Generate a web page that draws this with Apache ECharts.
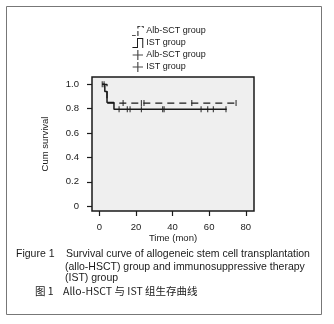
<!DOCTYPE html>
<html><head><meta charset="utf-8">
<script src="https://cdn.jsdelivr.net/npm/echarts@6/dist/echarts.min.js"></script>
<style>html,body{margin:0;padding:0;background:#fff}#c{width:334px;height:324px}</style>
</head><body><div id="c"></div>
<script>
// Kaplan-Meier step points (time in months, cumulative survival)
const albTimes = [1.5, 4.2, 75];
const albSurv  = [1, 0.846, 0.846];
const istTimes = [1.5, 3, 4.2, 8, 69.6];
const istSurv  = [1, 0.94, 0.85, 0.795, 0.795];
// Censored observations
const albCensorTimes = [1.6, 13, 23, 24.4, 50.5, 74.7];
const albCensorSurv  = [1, 0.846, 0.846, 0.846, 0.846, 0.846];
const istCensorTimes = [2.6, 10.8, 15.3, 16.8, 23, 34.6, 35.4, 55.6, 59.2, 62.3, 69.2];
const istCensorSurv  = [1, 0.795, 0.795, 0.795, 0.795, 0.795, 0.795, 0.795, 0.795, 0.795, 0.795];
const xTicks = [0, 20, 40, 60, 80];
const yTicks = [0, 0.2, 0.4, 0.6, 0.8, 1.0];
const legendNames = ['Alb-SCT group', 'IST group', 'Alb-SCT group ', 'IST group '];
const captionLines = [
  'Survival curve of allogeneic stem cell transplantation',
  '(allo-HSCT) group and immunosuppressive therapy',
  '(IST) group'
];
const captionLabel = 'Figure 1';
const cnLabel = '图 1';
const cnCaption = 'Allo-HSCT 与 IST 组生存曲线';

const zip = (a, b) => a.map((v, i) => [v, b[i]]);
const FONT = '"Liberation Sans", Arial, sans-serif';
const TXT = '#1a1a1a';

const chart = echarts.init(document.getElementById('c'), null, {renderer: 'canvas'});
const plusIcon = 'path://M5.5,0h1.4v12h-1.4z M0,5.3h12.4v1.4h-12.4z';
chart.setOption({
  animation: false,
  backgroundColor: '#fff',
  grid: {left: 92, top: 77, right: 80, bottom: 113, show: true,
         backgroundColor: '#efefef', borderColor: '#1a1a1a', borderWidth: 1.5},
  legend: {
    orient: 'vertical', left: 127, top: 21, itemWidth: 13, itemHeight: 10, itemGap: 2,
    textStyle: {fontSize: 9, color: TXT, fontFamily: FONT, padding: [0, 0, 0, -3]},
    formatter: n => n.trim(),
    data: [
      {name: legendNames[0], icon: 'path://M0,11h4.5v1h-4.5z M6.5,6h1.2v6h-1.2z M6.5,0h1.2v3h-1.2z M7.5,0h2.5v1h-2.5z M11.5,0h2.5v1h-2.5z M13,0h1v2.5h-1z'},
      {name: legendNames[1], icon: 'path://M0,11h6v1.2h-6z M5.6,0h1.2v12.2h-1.2z M5.6,0h7.4v1.2h-7.4z M12,0h1.2v12.2h-1.2z'},
      {name: legendNames[2], icon: plusIcon},
      {name: legendNames[3], icon: plusIcon}
    ]
  },
  xAxis: {
    type: 'value', min: -4, max: 84.5,
    name: 'Time (mon)', nameLocation: 'middle', nameGap: 21,
    nameTextStyle: {fontSize: 9.5, color: TXT, fontFamily: FONT},
    axisLine: {show: false, onZero: false}, splitLine: {show: false},
    axisTick: {show: true, length: 5, customValues: xTicks, lineStyle: {color: '#1a1a1a', width: 1.2}},
    axisLabel: {customValues: xTicks, fontSize: 9.5, color: TXT, fontFamily: FONT, margin: 11}
  },
  yAxis: {
    type: 'value', min: -0.04, max: 1.06,
    name: 'Cum survival', nameLocation: 'middle', nameGap: 42, nameRotate: 90,
    nameTextStyle: {fontSize: 9.5, color: TXT, fontFamily: FONT},
    axisLine: {show: false, onZero: false}, splitLine: {show: false},
    axisTick: {show: true, length: 5, customValues: yTicks, lineStyle: {color: '#1a1a1a', width: 1.2}},
    axisLabel: {customValues: yTicks, fontSize: 9.5, color: TXT, fontFamily: FONT, margin: 13,
                formatter: v => v === 0 ? '0' : v.toFixed(1)}
  },
  series: [
    {name: legendNames[0], type: 'line', step: 'end', data: zip(albTimes, albSurv), showSymbol: false,
     itemStyle: {color: '#1a1a1a'}, lineStyle: {color: '#1a1a1a', width: 1.3, type: [7, 5]}},
    {name: legendNames[1], type: 'line', step: 'end', data: zip(istTimes, istSurv), showSymbol: false,
     itemStyle: {color: '#1a1a1a'}, lineStyle: {color: '#1a1a1a', width: 1.5}},
    {name: legendNames[2], type: 'scatter', data: zip(albCensorTimes, albCensorSurv),
     symbol: 'rect', symbolSize: [1.2, 6], itemStyle: {color: '#1a1a1a'}},
    {name: legendNames[3], type: 'scatter', data: zip(istCensorTimes, istCensorSurv),
     symbol: 'rect', symbolSize: [1.2, 6], itemStyle: {color: '#1a1a1a'}}
  ],
  graphic: [
    {type: 'rect', shape: {x: 6.5, y: 6.5, width: 315, height: 308}, style: {fill: null, stroke: '#777', lineWidth: 1}, silent: true},
    {type: 'text', left: 16, top: 249, style: {text: captionLabel, font: '10.5px ' + FONT, fill: TXT}},
    {type: 'text', left: 66, top: 249, style: {text: captionLines[0], font: '10.5px ' + FONT, fill: TXT}},
    {type: 'text', left: 65, top: 262, style: {text: captionLines[1], font: '10.5px ' + FONT, fill: TXT}},
    {type: 'text', left: 65, top: 273, style: {text: captionLines[2], font: '10.5px ' + FONT, fill: TXT}},
    {type: 'text', left: 35, top: 285.5, style: {text: cnLabel, font: '10.5px "Noto Sans CJK SC", ' + FONT, fill: TXT}},
    {type: 'text', left: 63, top: 285.5, style: {text: cnCaption, font: '10.5px "Noto Sans CJK SC", ' + FONT, fill: TXT}}
  ]
});
</script></body></html>
